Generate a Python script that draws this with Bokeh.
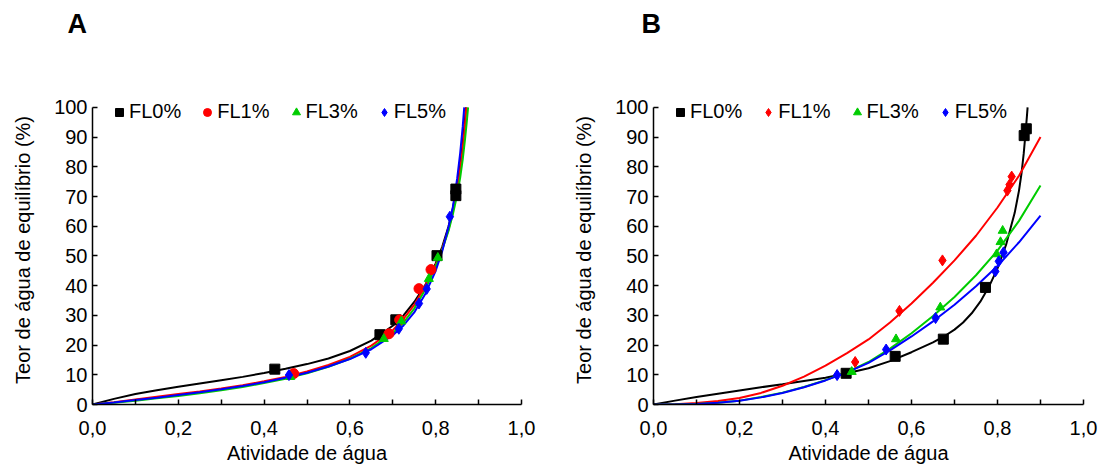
from bokeh.plotting import figure
from bokeh.models import Range1d, FixedTicker, CustomJSTickFormatter, Legend, LegendItem
from bokeh.core.properties import value
from bokeh.layouts import row, column
from bokeh.embed import file_html
from bokeh.resources import INLINE

# ---------------- data ----------------
series_names = ["FL0%", "FL1%", "FL3%", "FL5%"]
series_colors = ["#000000", "#ff0000", "#00cc00", "#0000ff"]
panel_letters = ["A", "B"]

x_ticks = [0.0, 0.2, 0.4, 0.6, 0.8, 1.0]
x_minor_ticks = [0.1, 0.3, 0.5, 0.7, 0.9]
y_ticks = [0, 10, 20, 30, 40, 50, 60, 70, 80, 90, 100]

# Panel A - experimental points
a_fl0_aw = [0.425, 0.670, 0.707, 0.803, 0.847, 0.847]
a_fl0_m = [11.9, 23.5, 28.5, 50.1, 72.5, 70.3]
a_fl1_aw = [0.469, 0.691, 0.716, 0.761, 0.789]
a_fl1_m = [10.4, 23.8, 28.5, 39.0, 45.4]
a_fl3_aw = [0.461, 0.679, 0.720, 0.784, 0.805]
a_fl3_m = [9.3, 22.1, 28.0, 42.3, 49.4]
a_fl5_aw = [0.458, 0.637, 0.714, 0.761, 0.779, 0.833]
a_fl5_m = [9.9, 17.4, 25.5, 34.0, 38.9, 63.2]

# Panel A - fitted curves
a_fit0_aw = [0, 0.05, 0.1, 0.15, 0.2, 0.25, 0.3, 0.35, 0.4, 0.45, 0.5, 0.55, 0.6, 0.65,
             0.7, 0.725, 0.75, 0.775, 0.8, 0.815, 0.83, 0.84, 0.85, 0.857, 0.863, 0.868, 0.8705]
a_fit_fl0 = [0, 1.9, 3.5, 4.8, 6.0, 7.1, 8.2, 9.3, 10.6, 12.0, 13.6, 15.5, 18.0, 21.5,
             26.5, 30.0, 34.5, 40.0, 47.5, 53.0, 60.0, 66.0, 73.5, 80.5, 88.0, 95.5, 100]
a_fit1_aw = [0, 0.05, 0.1, 0.15, 0.2, 0.25, 0.3, 0.35, 0.4, 0.45, 0.5, 0.55, 0.6, 0.65,
             0.7, 0.725, 0.75, 0.775, 0.8, 0.815, 0.83, 0.84, 0.85, 0.857, 0.863, 0.868, 0.8715]
a_fit_fl1 = [0, 0.8, 1.7, 2.6, 3.5, 4.4, 5.4, 6.5, 7.8, 9.3, 11.1, 13.3, 16.0, 19.8,
             25.0, 28.8, 33.5, 39.8, 47.0, 52.3, 59.0, 65.0, 72.3, 79.0, 86.3, 93.5, 100]
a_fit3_aw = [0, 0.05, 0.1, 0.15, 0.2, 0.25, 0.3, 0.35, 0.4, 0.45, 0.5, 0.55, 0.6, 0.65,
             0.7, 0.725, 0.75, 0.775, 0.8, 0.815, 0.83, 0.84, 0.85, 0.857, 0.863, 0.868, 0.872, 0.8755]
a_fit_fl3 = [0, 0.6, 1.3, 2.1, 2.9, 3.8, 4.8, 5.9, 7.2, 8.7, 10.5, 12.7, 15.4, 19.0,
             24.0, 27.6, 32.3, 38.5, 46.5, 52.0, 58.5, 64.0, 70.5, 76.3, 82.5, 88.8, 94.5, 100]
a_fit5_aw = [0, 0.05, 0.1, 0.15, 0.2, 0.25, 0.3, 0.35, 0.4, 0.45, 0.5, 0.55, 0.6, 0.65,
             0.7, 0.725, 0.75, 0.775, 0.8, 0.815, 0.83, 0.84, 0.85, 0.857, 0.863, 0.8665]
a_fit_fl5 = [0, 0.7, 1.5, 2.3, 3.2, 4.1, 5.1, 6.2, 7.5, 9.0, 10.7, 12.8, 15.3, 18.6,
             23.3, 26.6, 31.0, 37.0, 45.0, 51.5, 59.8, 66.5, 76.0, 84.5, 93.5, 100]

# Panel B - experimental points
b_fl0_aw = [0.448, 0.562, 0.674, 0.772, 0.862, 0.867]
b_fl0_m = [10.5, 16.2, 22.0, 39.4, 90.5, 92.8]
b_fl1_aw = [0.469, 0.572, 0.672, 0.823, 0.828, 0.833]
b_fl1_m = [14.3, 31.5, 48.5, 72.0, 74.0, 76.7]
b_fl3_aw = [0.461, 0.564, 0.667, 0.798, 0.807, 0.812]
b_fl3_m = [11.0, 22.0, 32.7, 50.6, 54.7, 58.5]
b_fl5_aw = [0.427, 0.541, 0.656, 0.795, 0.803, 0.814]
b_fl5_m = [9.9, 18.5, 29.1, 44.8, 48.2, 51.2]

# Panel B - fitted curves
b_fit0_aw = [0, 0.05, 0.1, 0.15, 0.2, 0.25, 0.3, 0.35, 0.4, 0.45, 0.5, 0.55, 0.6, 0.65,
             0.68, 0.7, 0.72, 0.74, 0.76, 0.78, 0.80, 0.82, 0.84, 0.85, 0.856, 0.861, 0.865, 0.868, 0.870]
b_fit_fl0 = [0, 1.3, 2.5, 3.6, 4.7, 5.8, 6.8, 7.9, 9.0, 10.5, 12.2, 14.6, 17.6, 20.9,
             23.3, 25.2, 27.6, 30.7, 34.6, 39.6, 45.8, 53.8, 64.5, 72.0, 78.0, 84.5, 91.0, 96.3, 100]
b_fit_aw = [0, 0.05, 0.1, 0.15, 0.2, 0.25, 0.3, 0.35, 0.4, 0.45, 0.5, 0.55, 0.6, 0.65,
            0.7, 0.75, 0.8, 0.85, 0.9]
b_fit_fl1 = [0, 0.1, 0.5, 1.2, 2.2, 3.9, 6.3, 9.4, 13.1, 17.3, 21.9, 27.6, 34.0, 41.0,
             48.5, 56.8, 66.3, 77.0, 90.0]
b_fit_fl3 = [0, 0.0, 0.2, 0.6, 1.3, 2.5, 4.0, 5.9, 8.2, 10.9, 14.3, 18.8, 24.0, 29.8,
             36.2, 43.5, 51.8, 61.8, 73.7]
b_fit_fl5 = [0, 0.0, 0.2, 0.6, 1.3, 2.4, 3.9, 5.8, 8.1, 10.8, 14.0, 18.2, 22.9, 28.0,
             33.6, 39.8, 46.6, 54.6, 63.6]

x_label = "Atividade de água"
y_label = "Teor de água de equilíbrio (%)"
FONT = "Liberation Sans"

# strip holding the panel letters (pixel coordinates of the strip)
TOTAL_W = 1103
STRIP_H = 50
letters = figure(width=TOTAL_W, height=STRIP_H, x_range=Range1d(0, TOTAL_W), y_range=Range1d(STRIP_H, 0),
                 min_border=0, x_axis_type=None, y_axis_type=None,
                 output_backend="svg", toolbar_location=None)
letters.outline_line_color = None
letters.xgrid.visible = False
letters.ygrid.visible = False
letters.text(x=[67, 641], y=[23, 23], text=panel_letters, text_font=value(FONT),
             text_font_size="27px", text_font_style="bold", text_color="black",
             text_align="left", text_baseline="alphabetic")


def make_panel(points, curves, markers, sizes, border_left, frame_w, border_right):
    p = figure(width=border_left + frame_w + border_right, height=470 - STRIP_H,
               min_border_left=border_left, min_border_right=border_right,
               min_border_top=95 - STRIP_H, min_border_bottom=66,
               x_range=Range1d(0, 1), y_range=Range1d(0, 104),
               output_backend="svg", toolbar_location=None)
    p.outline_line_color = None
    p.xgrid.visible = False
    p.ygrid.visible = False
    p.background_fill_color = "white"
    p.border_fill_color = "white"

    for (cx, cy), col in zip(curves, series_colors):
        p.line(cx, cy, line_width=2, color=col)

    rends = []
    for (px, py), col, mk, sz in zip(points, series_colors, markers, sizes):
        r = p.scatter(px, py, marker=mk, size=sz, fill_color=col, line_color=col)
        rends.append(r)

    legend = Legend(items=[LegendItem(label=n, renderers=[r]) for n, r in zip(series_names, rends)],
                    orientation="horizontal", location=(17, 281), padding=0, margin=0,
                    spacing=16, glyph_width=20, glyph_height=20, label_standoff=0,
                    label_text_font=FONT, label_text_font_size="20px",
                    label_text_color="black",
                    border_line_color=None, background_fill_alpha=0)
    p.add_layout(legend)

    p.xaxis.ticker = FixedTicker(ticks=x_ticks, minor_ticks=x_minor_ticks)
    p.xaxis.formatter = CustomJSTickFormatter(code="return tick.toFixed(1).replace('.', ',');")
    p.yaxis.ticker = FixedTicker(ticks=y_ticks)
    p.yaxis.bounds = (0, 100)
    for ax in (p.xaxis, p.yaxis):
        ax.axis_line_color = "black"
        ax.axis_line_width = 1.5
        ax.major_tick_line_color = "black"
        ax.major_tick_line_width = 1.5
        ax.minor_tick_line_color = "black"
        ax.minor_tick_line_width = 1.5
        ax.major_tick_in = 5
        ax.major_tick_out = 0
        ax.minor_tick_in = 5
        ax.minor_tick_out = 0
        ax.major_label_text_font = FONT
        ax.major_label_text_font_size = "20px"
        ax.major_label_text_color = "black"
        ax.axis_label_text_font = FONT
        ax.axis_label_text_font_size = "20px"
        ax.axis_label_text_font_style = "normal"
        ax.axis_label_text_color = "black"
    p.xaxis.axis_label = x_label
    p.yaxis.axis_label = y_label
    p.xaxis.major_label_standoff = 16
    p.xaxis.axis_label_standoff = 4
    p.yaxis.major_label_standoff = 5
    p.yaxis.axis_label_standoff = 17
    return p


pa = make_panel([(a_fl0_aw, a_fl0_m), (a_fl1_aw, a_fl1_m), (a_fl3_aw, a_fl3_m), (a_fl5_aw, a_fl5_m)],
                [(a_fit0_aw, a_fit_fl0), (a_fit1_aw, a_fit_fl1), (a_fit3_aw, a_fit_fl3), (a_fit5_aw, a_fit_fl5)],
                ["square", "circle", "triangle", "diamond"], [10, 10, 9, 11], 92, 429, 48)
pb = make_panel([(b_fl0_aw, b_fl0_m), (b_fl1_aw, b_fl1_m), (b_fl3_aw, b_fl3_m), (b_fl5_aw, b_fl5_m)],
                [(b_fit0_aw, b_fit_fl0), (b_fit_aw, b_fit_fl1), (b_fit_aw, b_fit_fl3), (b_fit_aw, b_fit_fl5)],
                ["square", "diamond", "triangle", "diamond"], [10, 11, 9, 11], 84, 430, 20)

layout = column(letters, row(pa, pb))
open("out.html", "w").write(file_html(layout, INLINE))
